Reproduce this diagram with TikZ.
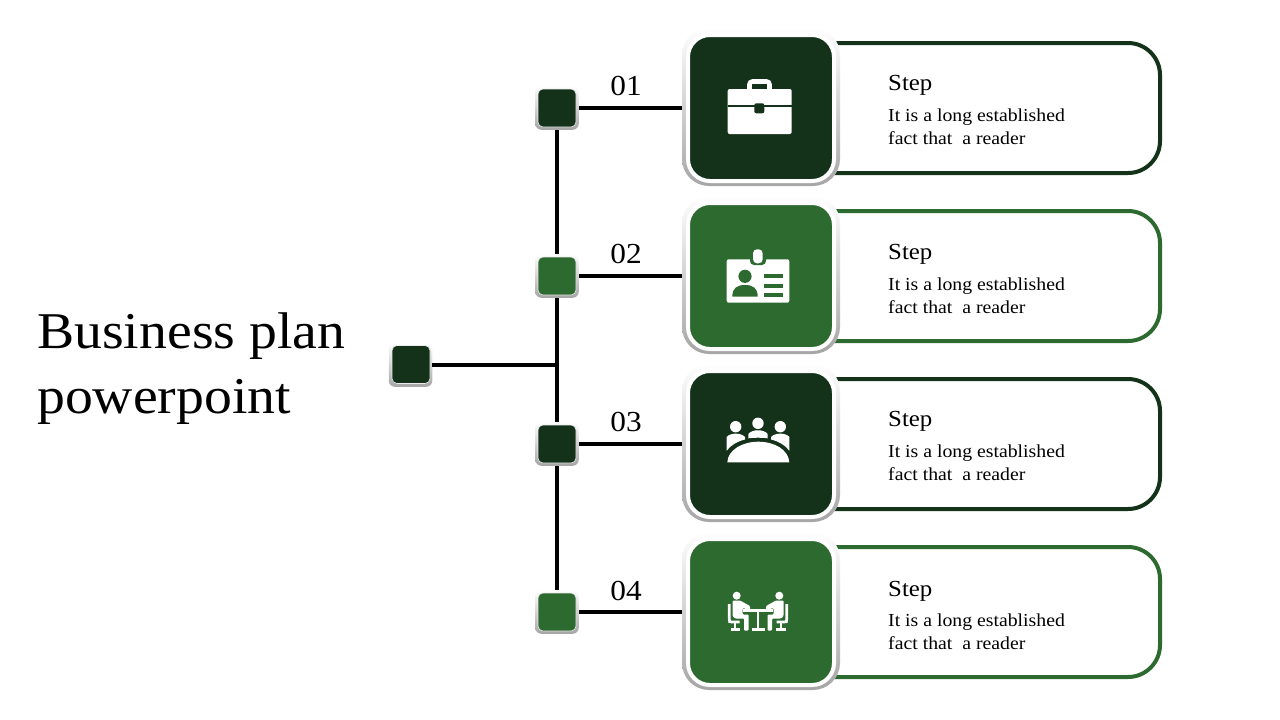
\documentclass[tikz,border=0pt]{standalone}
\usepackage{fontspec}
\setmainfont[FakeStretch=1.08]{Liberation Serif}
\definecolor{darkgreen}{HTML}{14321A}
\definecolor{leafgreen}{HTML}{2D6A2F}
\tikzset{
  font={\fontsize{18.3pt}{23pt}\selectfont},
  panelbox/.style={rectangle,draw=#1,line width=4pt,fill=white,rounded corners=32pt,
    minimum width=360pt,minimum height=130pt},
  tileedge/.style={rectangle,rounded corners=27pt,inner sep=0pt,minimum size=158pt,
    top color=white,middle color=gray!80,bottom color=gray!70},
  tileface/.style={rectangle,rounded corners=22pt,inner sep=0pt,minimum size=146pt,
    draw=white,line width=4pt,fill=#1},
  squareedge/.style={rectangle,rounded corners=6pt,inner sep=0pt,minimum size=43.5pt,
    top color=white,middle color=gray!85,bottom color=gray!70},
  squareface/.style={rectangle,rounded corners=5pt,inner sep=0pt,minimum size=38pt,
    draw=white!85!gray,line width=.6pt,fill=#1},
  linkline/.style={line width=4pt,black},
  numlabel/.style={anchor=base,font={\fontsize{29pt}{29pt}\selectfont}},
  steplabel/.style={anchor=base west,font={\fontsize{23pt}{23pt}\selectfont}},
  bodylabel/.style={anchor=base west,align=left,inner sep=0pt},
}
\newcommand{\sitterfig}{%
\fill[white] (736.7,595.7) circle[radius=4];
\fill[white,rounded corners=1pt] (732.5,600.5) -- (740,600.5) -- (750,606) -- (750,610) -- (742.5,608)
  -- (742.5,614.5) -- (748.5,614.5) -- (748.5,630.7) -- (744,630.7) -- (744,618.5) -- (735,618.5) -- (732.5,616) -- cycle;
\draw[white,line width=2.7pt] (729.3,604) -- (729.3,619) .. controls (729.3,622) .. (732,622) -- (739.5,622);
\draw[white,line width=2.4pt] (735,622) -- (735,629.5);
\draw[white,line width=2.6pt] (730.5,629.5) -- (740,629.5);
}

\begin{document}
\begin{tikzpicture}[x=1pt,y=-1pt]
\useasboundingbox (0,0) rectangle (1280,720);
% title
\node[anchor=base west,align=left,inner sep=0pt,font={\fontsize{51.6pt}{65pt}\selectfont}] (title) at (37,413) {Business plan\\powerpoint};
% panels behind the tiles
\node[panelbox=darkgreen] (panel1) at (980,108) {};
\node[panelbox=leafgreen] (panel2) at (980,276) {};
\node[panelbox=darkgreen] (panel3) at (980,444) {};
\node[panelbox=leafgreen] (panel4) at (980,612) {};
% tiles
\node[tileedge] (edge1) at (761,107) {};
\node[tileedge] (edge2) at (761,275) {};
\node[tileedge] (edge3) at (761,443) {};
\node[tileedge] (edge4) at (761,611) {};
\node[tileface=darkgreen] (tile1) at (761,108) {};
\node[tileface=leafgreen] (tile2) at (761,276) {};
\node[tileface=darkgreen] (tile3) at (761,444) {};
\node[tileface=leafgreen] (tile4) at (761,612) {};
% squares
\node[squareedge] (hubedge) at (410.5,365) {};
\node[squareedge] (edgeA) at (557,108) {};
\node[squareedge] (edgeB) at (557,276) {};
\node[squareedge] (edgeC) at (557,444) {};
\node[squareedge] (edgeD) at (557,612) {};
\node[squareface=darkgreen] (hub) at (411,364.5) {};
\node[squareface=darkgreen] (sq1) at (557,108) {};
\node[squareface=leafgreen] (sq2) at (557,276) {};
\node[squareface=darkgreen] (sq3) at (557,444) {};
\node[squareface=leafgreen] (sq4) at (557,612) {};
\coordinate (junction) at (557,365);
% links
\draw[linkline] (edgeA) -- (edgeB);
\draw[linkline] (edgeB) -- (edgeC);
\draw[linkline] (edgeC) -- (edgeD);
\draw[linkline] (hubedge) -- (junction);
\draw[linkline] (edgeA) -- (edgeA -| edge1.west);
\draw[linkline] (edgeB) -- (edgeB -| edge2.west);
\draw[linkline] (edgeC) -- (edgeC -| edge3.west);
\draw[linkline] (edgeD) -- (edgeD -| edge4.west);
% numbers
\node[numlabel] (num1) at (626,95) {01};
\node[numlabel] (num2) at (626,263) {02};
\node[numlabel] (num3) at (626,431) {03};
\node[numlabel] (num4) at (626,600) {04};
% texts
\node[steplabel,inner sep=0pt] (step1) at (888,90) {Step};
\node[steplabel,inner sep=0pt] (step2) at (888,259) {Step};
\node[steplabel,inner sep=0pt] (step3) at (888,426) {Step};
\node[steplabel,inner sep=0pt] (step4) at (888,596) {Step};
\node[bodylabel] (body1) at (888,144) {It is a long established\\fact that\hspace{5pt} a reader};
\node[bodylabel] (body2) at (888,313) {It is a long established\\fact that\hspace{5pt} a reader};
\node[bodylabel] (body3) at (888,480) {It is a long established\\fact that\hspace{5pt} a reader};
\node[bodylabel] (body4) at (888,649) {It is a long established\\fact that\hspace{5pt} a reader};
% briefcase
\draw[white,line width=4.6pt,rounded corners=3pt] (749.5,90) -- (749.5,81.5) -- (769.5,81.5) -- (769.5,90);
\fill[white,rounded corners=2pt] (727.7,89) rectangle (791.7,134);
\fill[darkgreen] (727.7,105) rectangle (791.7,107.3);
\fill[darkgreen,rounded corners=2pt] (754.3,103.3) rectangle (764.3,113.3);
% badge
\fill[white,rounded corners=2pt] (726.7,259.3) rectangle (789.3,302.7);
\fill[leafgreen,rounded corners=4pt] (750,245) rectangle (766,265);
\fill[white,rounded corners=4pt] (753,249.3) rectangle (762.7,263.3);
\fill[leafgreen] (745,276.3) circle[radius=6.6];
\fill[leafgreen] (732.3,296.7) .. controls (732.3,288) and (737,285) .. (745,285) .. controls (753,285) and (757.7,288) .. (757.7,296.7) -- cycle;
\fill[leafgreen] (764.3,274.3) rectangle (783.3,278.3);
\fill[leafgreen] (764.3,284) rectangle (783.3,287.7);
\fill[leafgreen] (764.3,293.3) rectangle (783.3,296.7);
% meeting
\fill[white] (735.7,426.7) circle[radius=5.7];
\fill[white] (758,423.3) circle[radius=5.7];
\fill[white] (780.3,426.7) circle[radius=5.7];
\fill[white] (727.3,462.3) .. controls (728,450) and (742,441.7) .. (758.3,441.7) .. controls (775,441.7) and (788.5,450) .. (789.3,462.3) -- cycle;
\fill[white] (726.7,450.7) -- (726.7,437) .. controls (730,432.5) and (741,432.5) .. (745,437) -- (745,439.5) .. controls (737,441.5) and (731,445) .. (726.7,450.7) -- cycle;
\fill[white] (789.3,450.7) -- (789.3,437) .. controls (786,432.5) and (775,432.5) .. (771,437) -- (771,439.5) .. controls (779,441.5) and (785,445) .. (789.3,450.7) -- cycle;
\fill[white] (748.3,438.3) -- (748.3,434) .. controls (752,429) and (764,429) .. (767.7,434) -- (767.7,438.3) .. controls (762,437.5) and (754,437.5) .. (748.3,438.3) -- cycle;
% table and two people
\sitterfig
\begin{scope}[shift={(1516,0)},xscale=-1]
\sitterfig
\end{scope}
\fill[white] (743.3,609.3) rectangle (773.3,612);
\fill[white] (756.7,612) rectangle (759.3,629);
\fill[white] (751.7,628.3) rectangle (765,630.7);
\end{tikzpicture}
\end{document}
